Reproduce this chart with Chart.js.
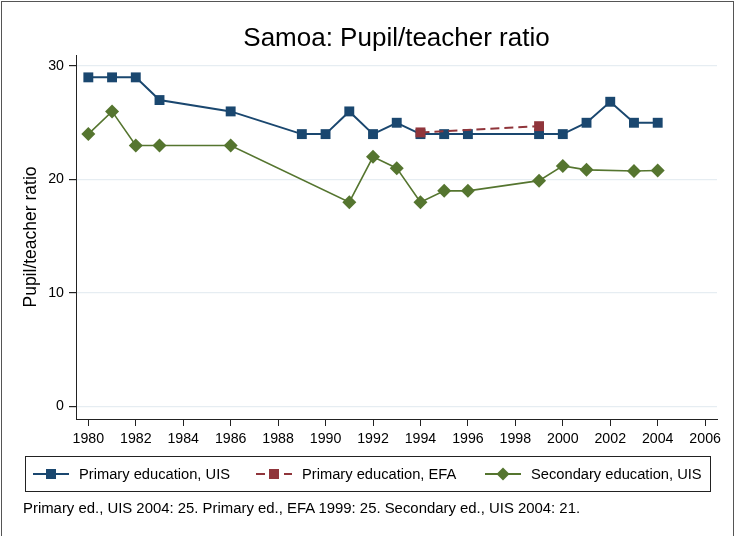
<!DOCTYPE html>
<html>
<head>
<meta charset="utf-8">
<script src="https://cdn.jsdelivr.net/npm/chart.js@4"></script>
<style>
  body { margin: 0; background: #fff; font-family: "Liberation Sans", Arial, sans-serif; color: #000; }
  #page { position: relative; width: 736px; height: 536px; overflow: hidden; }
  #frame { position: absolute; left: 1px; top: 1px; width: 731px; height: 560px; border: 1px solid #555; }
  #chart { position: absolute; left: 0; top: 0; }
  #title { position: absolute; left: 76px; width: 641px; top: 21px; line-height: 32px; font-size: 26px; text-align: center; }
  #legend { position: absolute; left: 25px; top: 456px; width: 686px; height: 36px; box-sizing: border-box; border: 1px solid #222; }
  .item { position: absolute; top: 0; height: 34px; line-height: 34px; font-size: 14.7px; white-space: nowrap; }
  .item svg { position: absolute; top: 10px; }
  .item span { position: absolute; }
  #note { position: absolute; left: 23px; top: 499px; line-height: 18px; font-size: 14.9px; white-space: nowrap; }
</style>
</head>
<body>
<div id="page">
  <div id="frame"></div>
  <canvas id="chart" width="736" height="460"></canvas>
  <div id="title">Samoa: Pupil/teacher ratio</div>
  <div id="legend"></div>
  <div id="note">Primary ed., UIS 2004: 25. Primary ed., EFA 1999: 25. Secondary ed., UIS 2004: 21.</div>
</div>
<script>
// data
const primaryYears = [1980, 1981, 1982, 1983, 1986, 1989, 1990, 1991, 1992, 1993, 1994, 1995, 1996, 1999, 2000, 2001, 2002, 2003, 2004];
const primaryUIS = [29, 29, 29, 27, 26, 24, 24, 26, 24, 25, 24, 24, 24, 24, 24, 25, 26.85, 25, 25];

const efaYears = [1994, 1999];
const primaryEFA = [24.15, 24.7];

const secondaryYears = [1980, 1981, 1982, 1983, 1986, 1991, 1992, 1993, 1994, 1995, 1996, 1999, 2000, 2001, 2003, 2004];
const secondaryUIS = [24, 26, 23, 23, 23, 18, 22, 21, 18, 19, 19, 19.9, 21.2, 20.85, 20.75, 20.8];

const xTicks = [1980, 1982, 1984, 1986, 1988, 1990, 1992, 1994, 1996, 1998, 2000, 2002, 2004, 2006];
const yTicks = [0, 10, 20, 30];

const seriesNames = ['Primary education, UIS', 'Primary education, EFA', 'Secondary education, UIS'];

const navy = '#1a476f';
const red = '#90353b';
const green = '#55752f';

function pts(xs, ys) {
    return xs.map((x, i) => ({ x: x, y: ys[i] }));
}

const font = "'Liberation Sans', Arial, sans-serif";

const ctx = document.getElementById('chart');

const chart = new Chart(ctx, {
    type: 'line',
    data: {
        datasets: [
            {
                label: seriesNames[0],
                data: pts(primaryYears, primaryUIS),
                borderColor: navy,
                backgroundColor: navy,
                borderWidth: 2,
                pointStyle: 'rect',
                pointRadius: 7,
                pointBorderWidth: 0,
                order: 2
            }, {
                label: seriesNames[1],
                data: pts(efaYears, primaryEFA),
                borderColor: red,
                backgroundColor: red,
                borderWidth: 2,
                borderDash: [9, 5],
                pointStyle: 'rect',
                pointRadius: 7,
                pointBorderWidth: 0,
                order: 1
            }, {
                label: seriesNames[2],
                data: pts(secondaryYears, secondaryUIS),
                borderColor: green,
                backgroundColor: green,
                borderWidth: 1.6,
                pointStyle: 'rectRot',
                pointRadius: 7,
                pointBorderWidth: 0,
                order: 3
            }
        ]
    },
    options: {
        responsive: false,
        animation: false,
        layout: { padding: { left: 16, right: 19, top: 55, bottom: 0 } },
        plugins: {
            legend: { display: false },
            tooltip: { enabled: false }
        },
        scales: {
            x: {
                type: 'linear',
                min: 1979.48,
                max: 2006.5,
                afterBuildTicks: (scale) => { scale.ticks = xTicks.map(v => ({ value: v })); },
                afterFit: (scale) => { scale.height = 41; },
                grid: { drawOnChartArea: false, drawTicks: true, tickLength: 7, tickColor: '#222' },
                border: { color: '#222', width: 1 },
                ticks: { color: '#000', padding: 5, maxRotation: 0, autoSkip: false, font: { family: font, size: 14.2 }, callback: (v) => String(v) }
            },
            y: {
                min: -1.1,
                max: 30.97,
                afterBuildTicks: (scale) => { scale.ticks = yTicks.map(v => ({ value: v })); },
                afterFit: (scale) => { scale.width = 60; },
                grid: { color: '#e6edf2', lineWidth: 1.2, drawTicks: true, tickLength: 7, tickColor: '#222' },
                border: { color: '#222', width: 1 },
                ticks: { color: '#000', padding: 5, font: { family: font, size: 14.2 }, callback: (v) => String(v) },
                title: { display: true, text: 'Pupil/teacher ratio', color: '#000', padding: { top: 5, bottom: 0 }, font: { family: font, size: 17.5 } }
            }
        }
    }
});

// legend built from the datasets
const legendPos = [[33, 79], [256, 302], [485, 531]];
const legendBox = document.getElementById('legend');
chart.data.datasets.forEach((ds, i) => {
    const left = legendPos[i][0] - 26;
    const item = document.createElement('div');
    item.className = 'item';
    item.style.left = left + 'px';
    const dash = ds.borderDash ? ' stroke-dasharray="9 5"' : '';
    const marker = ds.pointStyle === 'rectRot'
        ? `<polygon points="18,0.5 24.5,7 18,13.5 11.5,7" fill="${ds.backgroundColor}"/>`
        : `<rect x="13" y="2" width="10" height="10" fill="${ds.backgroundColor}"/>`;
    item.innerHTML =
        `<svg width="36" height="14" style="left:0"><line x1="0" y1="7" x2="36" y2="7" stroke="${ds.borderColor}" stroke-width="2"${dash}/>${marker}</svg>` +
        `<span style="left:${legendPos[i][1] - legendPos[i][0]}px">${ds.label}</span>`;
    legendBox.appendChild(item);
});
</script>
</body>
</html>
